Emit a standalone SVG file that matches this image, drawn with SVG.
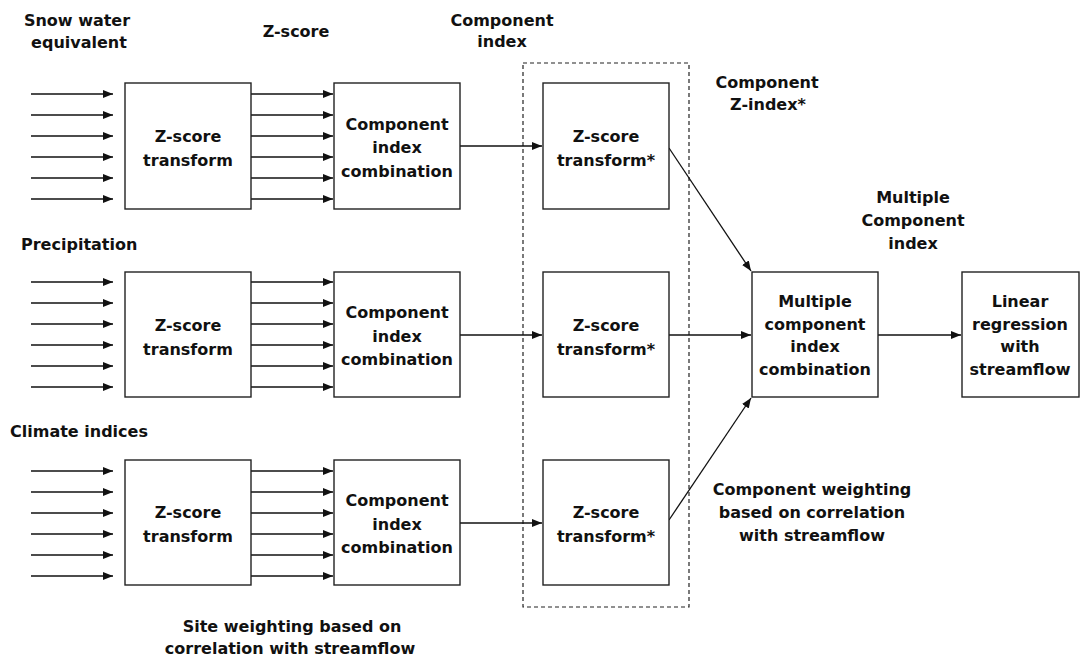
<svg xmlns="http://www.w3.org/2000/svg" width="1081" height="658" viewBox="0 0 1081 658">
<style>
text{font-family:"DejaVu Sans","Liberation Sans",sans-serif;font-weight:bold;font-size:16px;fill:#111;text-anchor:middle}
.l{text-anchor:start}
.box{fill:#fff;stroke:#222;stroke-width:1.4}
.c{stroke:#111;stroke-width:1.3;fill:none;marker-end:url(#ah)}
.dash{fill:none;stroke:#222;stroke-width:1.2;stroke-dasharray:4 3}
</style>
<defs>
<marker id="ah" markerUnits="userSpaceOnUse" markerWidth="11" markerHeight="9" refX="10" refY="4" orient="auto">
<path d="M0,0 L10,4 L0,8 z" fill="#111"/>
</marker>
</defs>
<rect width="1081" height="658" fill="#fff"/>

<g id="labels">
<text x="77" y="26">Snow water</text>
<text x="79" y="48">equivalent</text>
<text x="296" y="37">Z-score</text>
<text x="502" y="26">Component</text>
<text x="502" y="47">index</text>
<text x="767" y="88">Component</text>
<text x="768" y="110">Z-index*</text>
<text x="913" y="203">Multiple</text>
<text x="913" y="226">Component</text>
<text x="913" y="249">index</text>
<text class="l" x="21" y="250">Precipitation</text>
<text class="l" x="10" y="437">Climate indices</text>
<text x="812" y="495">Component weighting</text>
<text x="812" y="518">based on correlation</text>
<text x="812" y="541">with streamflow</text>
<text x="292" y="632">Site weighting based on</text>
<text x="290" y="654">correlation with streamflow</text>
</g>

<rect id="component-group" class="dash" x="523" y="63" width="166" height="544"/>

<g id="connectors">
<line class="c" x1="31" y1="94" x2="113" y2="94"/>
<line class="c" x1="31" y1="115" x2="113" y2="115"/>
<line class="c" x1="31" y1="136" x2="113" y2="136"/>
<line class="c" x1="31" y1="157" x2="113" y2="157"/>
<line class="c" x1="31" y1="178" x2="113" y2="178"/>
<line class="c" x1="31" y1="199" x2="113" y2="199"/>
<line class="c" x1="251" y1="94" x2="333" y2="94"/>
<line class="c" x1="251" y1="115" x2="333" y2="115"/>
<line class="c" x1="251" y1="136" x2="333" y2="136"/>
<line class="c" x1="251" y1="157" x2="333" y2="157"/>
<line class="c" x1="251" y1="178" x2="333" y2="178"/>
<line class="c" x1="251" y1="199" x2="333" y2="199"/>

<line class="c" x1="31" y1="282" x2="113" y2="282"/>
<line class="c" x1="31" y1="303" x2="113" y2="303"/>
<line class="c" x1="31" y1="324" x2="113" y2="324"/>
<line class="c" x1="31" y1="345" x2="113" y2="345"/>
<line class="c" x1="31" y1="366" x2="113" y2="366"/>
<line class="c" x1="31" y1="387" x2="113" y2="387"/>
<line class="c" x1="251" y1="282" x2="333" y2="282"/>
<line class="c" x1="251" y1="303" x2="333" y2="303"/>
<line class="c" x1="251" y1="324" x2="333" y2="324"/>
<line class="c" x1="251" y1="345" x2="333" y2="345"/>
<line class="c" x1="251" y1="366" x2="333" y2="366"/>
<line class="c" x1="251" y1="387" x2="333" y2="387"/>

<line class="c" x1="31" y1="471" x2="113" y2="471"/>
<line class="c" x1="31" y1="492" x2="113" y2="492"/>
<line class="c" x1="31" y1="513" x2="113" y2="513"/>
<line class="c" x1="31" y1="534" x2="113" y2="534"/>
<line class="c" x1="31" y1="555" x2="113" y2="555"/>
<line class="c" x1="31" y1="576" x2="113" y2="576"/>
<line class="c" x1="251" y1="471" x2="333" y2="471"/>
<line class="c" x1="251" y1="492" x2="333" y2="492"/>
<line class="c" x1="251" y1="513" x2="333" y2="513"/>
<line class="c" x1="251" y1="534" x2="333" y2="534"/>
<line class="c" x1="251" y1="555" x2="333" y2="555"/>
<line class="c" x1="251" y1="576" x2="333" y2="576"/>

<line class="c" x1="460" y1="146" x2="542" y2="146"/>
<line class="c" x1="460" y1="335" x2="542" y2="335"/>
<line class="c" x1="460" y1="523" x2="542" y2="523"/>

<line class="c" x1="669" y1="148" x2="751" y2="271"/>
<line class="c" x1="669" y1="335" x2="751" y2="335"/>
<line class="c" x1="669" y1="520" x2="751" y2="398"/>

<line class="c" x1="878" y1="335" x2="961" y2="335"/>
</g>

<g id="z1"><rect class="box" x="125" y="83" width="126" height="126"/><text x="188" y="142">Z-score</text><text x="188" y="166">transform</text></g>
<g id="c1"><rect class="box" x="334" y="83" width="126" height="126"/><text x="397" y="130">Component</text><text x="397" y="153">index</text><text x="397" y="177">combination</text></g>
<g id="zs1"><rect class="box" x="543" y="83" width="126" height="126"/><text x="606" y="142">Z-score</text><text x="606" y="166">transform*</text></g>

<g id="z2"><rect class="box" x="125" y="272" width="126" height="125"/><text x="188" y="331">Z-score</text><text x="188" y="355">transform</text></g>
<g id="c2"><rect class="box" x="334" y="272" width="126" height="125"/><text x="397" y="318">Component</text><text x="397" y="342">index</text><text x="397" y="365">combination</text></g>
<g id="zs2"><rect class="box" x="543" y="272" width="126" height="125"/><text x="606" y="331">Z-score</text><text x="606" y="355">transform*</text></g>

<g id="z3"><rect class="box" x="125" y="460" width="126" height="125"/><text x="188" y="518">Z-score</text><text x="188" y="542">transform</text></g>
<g id="c3"><rect class="box" x="334" y="460" width="126" height="125"/><text x="397" y="506">Component</text><text x="397" y="530">index</text><text x="397" y="553">combination</text></g>
<g id="zs3"><rect class="box" x="543" y="460" width="126" height="125"/><text x="606" y="518">Z-score</text><text x="606" y="542">transform*</text></g>

<g id="multiple"><rect class="box" x="752" y="272" width="126" height="125"/><text x="815" y="307">Multiple</text><text x="815" y="330">component</text><text x="815" y="352">index</text><text x="815" y="375">combination</text></g>
<g id="linear"><rect class="box" x="962" y="272" width="117" height="125"/><text x="1020" y="307">Linear</text><text x="1020" y="330">regression</text><text x="1020" y="352">with</text><text x="1020" y="375">streamflow</text></g>
</svg>
